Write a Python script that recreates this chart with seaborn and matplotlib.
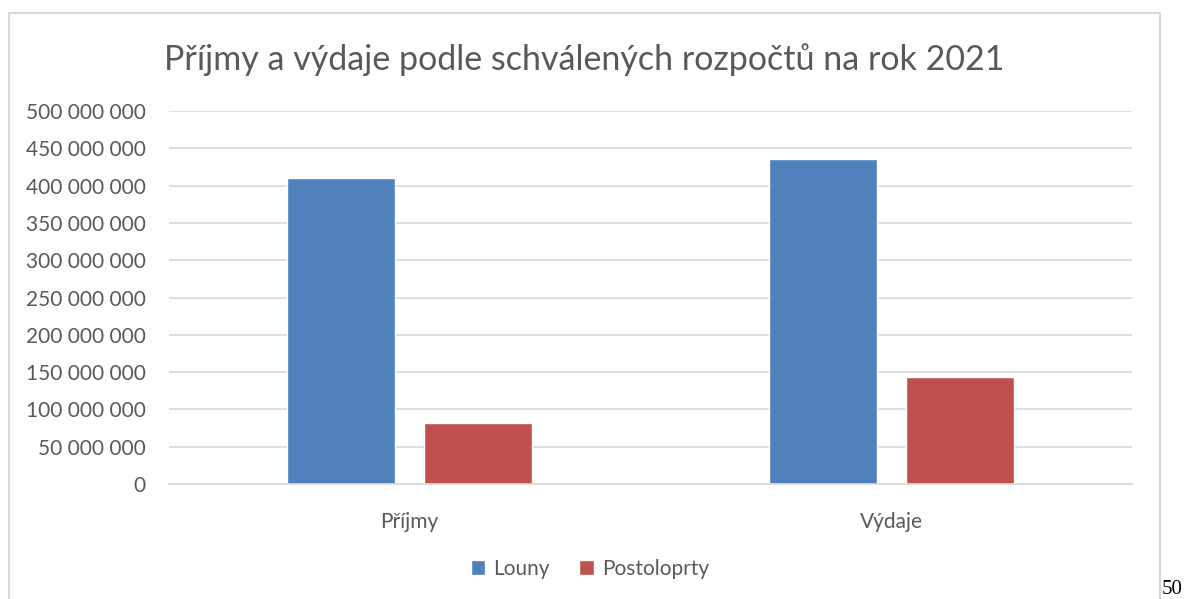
import matplotlib
matplotlib.use("Agg")
import matplotlib.pyplot as plt
from matplotlib.patches import Rectangle
from matplotlib.ticker import FuncFormatter, MultipleLocator
import seaborn as sns
import pandas as pd

# data
categories = ["Příjmy", "Výdaje"]
towns = ["Louny", "Postoloprty"]
louny = [410_000_000, 436_000_000]
postoloprty = [82_000_000, 144_000_000]

df = pd.DataFrame({
    "kategorie": categories * 2,
    "obec": [towns[0]] * 2 + [towns[1]] * 2,
    "hodnota": louny + postoloprty,
})

sns.set_style("white")
plt.rcParams["font.family"] = ["Lato", "DejaVu Sans"]
text_col = "#595959"
grid_col = "#d9d9d9"

fig = plt.figure(figsize=(11.86, 5.99), dpi=100)
ax = fig.add_axes([169 / 1186, 1 - 484 / 599, (1132 - 169) / 1186, (484 - 111) / 599])

sns.barplot(data=df, x="kategorie", y="hodnota", hue="obec",
            palette=["#4F81BD", "#C0504D"], width=0.57, gap=0.214,
            saturation=1, ax=ax, legend=True)

ax.set_ylim(0, 500_000_000)
ax.yaxis.set_major_locator(MultipleLocator(50_000_000))
ax.yaxis.set_major_formatter(FuncFormatter(lambda v, p: f"{v:,.0f}".replace(",", " ")))
ax.set_axisbelow(True)
ax.grid(axis="y", color=grid_col, linewidth=1.2)
for s in ["top", "left", "right"]:
    ax.spines[s].set_visible(False)
ax.spines["bottom"].set_color(grid_col)
ax.spines["bottom"].set_linewidth(1.2)
ax.tick_params(axis="y", length=0, pad=17, labelsize=15, labelcolor=text_col)
ax.tick_params(axis="x", length=0, pad=20, labelsize=15, labelcolor=text_col)
ax.set_xlabel("")
ax.set_ylabel("")

handles, labels = ax.get_legend_handles_labels()
ax.get_legend().remove()
fig.legend(handles, labels, loc="center", bbox_to_anchor=(590 / 1186, 1 - 569 / 599),
           ncol=2, frameon=False, fontsize=15, labelcolor=text_col,
           handlelength=0.7, handleheight=0.7, handletextpad=0.4, columnspacing=1.4)

fig.text(584 / 1186, 1 - 60 / 599, "Příjmy a výdaje podle schválených rozpočtů na rok 2021",
         ha="center", va="center", fontsize=24.5, color=text_col)

# chart frame and page number
fig.add_artist(Rectangle((9 / 1186, -0.05), (1160 - 9) / 1186, 1 - 13 / 599 + 0.05,
                         transform=fig.transFigure, fill=False, edgecolor=grid_col, linewidth=1.5))
fig.text(1162 / 1186, 1 - 594 / 599, "50", ha="left", va="baseline", fontsize=15,
         family="Liberation Serif", color="black")

fig.savefig("out.png", dpi=100)
